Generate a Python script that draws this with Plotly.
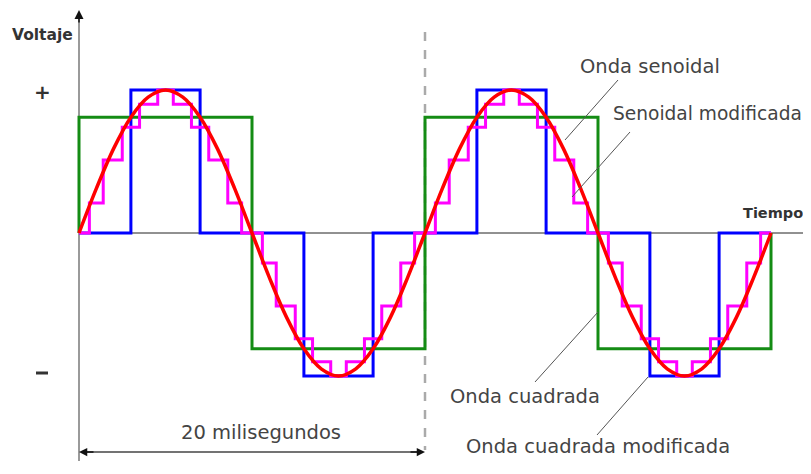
import plotly.graph_objects as go

# ---------------- data ----------------
# time in milliseconds, voltage relative to the sine peak
sine_t = list(range(0, 41))
sine_v = [0, 0.31, 0.59, 0.81, 0.95, 1.0, 0.95, 0.81, 0.59, 0.31,
          0, -0.31, -0.59, -0.81, -0.95, -1.0, -0.95, -0.81, -0.59, -0.31,
          0, 0.31, 0.59, 0.81, 0.95, 1.0, 0.95, 0.81, 0.59, 0.31,
          0, -0.31, -0.59, -0.81, -0.95, -1.0, -0.95, -0.81, -0.59, -0.31, 0]

step_t = [0, 0.6, 1.4, 2.5, 3.5, 4.55, 5.45, 6.5, 7.5, 8.6, 9.4,
          10.6, 11.4, 12.5, 13.5, 14.55, 15.45, 16.5, 17.5, 18.6, 19.4,
          20.6, 21.4, 22.5, 23.5, 24.55, 25.45, 26.5, 27.5, 28.6, 29.4,
          30.6, 31.4, 32.5, 33.5, 34.55, 35.45, 36.5, 37.5, 38.6, 39.4, 40]
step_v = [0, 0.21, 0.51, 0.74, 0.9, 1.0, 0.9, 0.74, 0.51, 0.21, 0,
          -0.21, -0.51, -0.74, -0.9, -1.0, -0.9, -0.74, -0.51, -0.21, 0,
          0.21, 0.51, 0.74, 0.9, 1.0, 0.9, 0.74, 0.51, 0.21, 0,
          -0.21, -0.51, -0.74, -0.9, -1.0, -0.9, -0.74, -0.51, -0.21, 0, 0]

square_t = [0, 0, 10, 20, 30, 40]
square_v = [0, 0.81, -0.81, 0.81, -0.81, 0]

modsq_t = [0, 3, 7, 13, 17, 23, 27, 33, 37, 40]
modsq_v = [0, 1, 0, -1, 0, 1, 0, -1, 0, 0]

labels = ["Onda senoidal", "Senoidal modificada", "Onda cuadrada", "Onda cuadrada modificada"]
period_label = "20 milisegundos"
axis_y_label = "Voltaje"
axis_x_label = "Tiempo"

# ---------------- layout helpers (page pixel -> data) ----------------
W, H = 811, 474
OFF = 8                   # default page margin around the plot div
X0, PXMS = 79, 17.3       # origin pixel, pixels per ms
Y0, PXV = 233, 143        # zero pixel, pixels per unit voltage
FIG_W, FIG_H = W - OFF, H - 2 * OFF
Y_BOTTOM = OFF + FIG_H


def X(px):
    return (px - X0) / PXMS


def Y(py):
    return (Y0 - py) / PXV


fig = go.Figure()
fig.add_trace(go.Scatter(x=square_t, y=square_v, mode="lines", line_shape="hv",
                         line=dict(color="#148c14", width=3), hoverinfo="skip"))
fig.add_trace(go.Scatter(x=modsq_t, y=modsq_v, mode="lines", line_shape="hv",
                         line=dict(color="#0000ff", width=3), hoverinfo="skip"))
fig.add_trace(go.Scatter(x=step_t, y=step_v, mode="lines", line_shape="hv",
                         line=dict(color="#ff00ff", width=3), hoverinfo="skip"))
fig.add_trace(go.Scatter(x=sine_t, y=sine_v, mode="lines", line_shape="spline",
                         line=dict(color="#ff0000", width=3.5), hoverinfo="skip"))

shapes = [
    # zero (time) line
    dict(type="line", x0=0, x1=X(W), y0=0, y1=0, line=dict(color="#222222", width=1), layer="below"),
    # voltage axis
    dict(type="line", x0=0, x1=0, y0=Y(461), y1=Y(16), line=dict(color="#9a9a9a", width=2), layer="below"),
    # dashed period marker
    dict(type="line", x0=20, x1=20, y0=Y(32), y1=Y(450), line=dict(color="#aaaaaa", width=2.5, dash="9px,9px"), layer="below"),
    # period dimension line
    dict(type="line", x0=0.3, x1=19.7, y0=Y(452), y1=Y(452), line=dict(color="#444444", width=1.5)),
    # leader lines
    dict(type="line", x0=X(618), y0=Y(80), x1=X(565), y1=Y(140), line=dict(color="#555555", width=1)),
    dict(type="line", x0=X(630), y0=Y(132), x1=X(572), y1=Y(197), line=dict(color="#555555", width=1)),
    dict(type="line", x0=X(535), y0=Y(382), x1=X(598), y1=Y(312), line=dict(color="#555555", width=1)),
    dict(type="line", x0=X(597), y0=Y(435), x1=X(648), y1=Y(377), line=dict(color="#555555", width=1)),
    # minus sign mark
    dict(type="line", x0=X(36), x1=X(48), y0=Y(373), y1=Y(373), line=dict(color="#333333", width=3)),
]

ann = []
font_lbl = dict(family="DejaVu Sans", size=19.5, color="#444444")
ann.append(dict(x=X(578), y=Y(66), text=labels[0], xanchor="left", yanchor="middle", showarrow=False, font=font_lbl))
ann.append(dict(x=X(611), y=Y(113), text=labels[1], xanchor="left", yanchor="middle", showarrow=False,
                font=dict(family="DejaVu Sans", size=18.6, color="#444444")))
ann.append(dict(x=X(448), y=Y(396), text=labels[2], xanchor="left", yanchor="middle", showarrow=False, font=font_lbl))
ann.append(dict(x=X(464), y=Y(446), text=labels[3], xanchor="left", yanchor="middle", showarrow=False, font=font_lbl))
ann.append(dict(x=X(261), y=Y(432), text=period_label, xanchor="center", yanchor="middle", showarrow=False,
                font=dict(family="DejaVu Sans", size=19.5, color="#444444")))
ann.append(dict(x=X(42), y=Y(35), text="<b>" + axis_y_label + "</b>", xanchor="center", yanchor="middle", showarrow=False,
                font=dict(family="DejaVu Sans", size=15.5, color="#333333")))
ann.append(dict(x=X(741), y=Y(213), text="<b>" + axis_x_label + "</b>", xanchor="left", yanchor="middle", showarrow=False,
                font=dict(family="DejaVu Sans", size=14.5, color="#333333")))
ann.append(dict(x=X(42), y=Y(92), text="<b>+</b>", xanchor="center", yanchor="middle", showarrow=False,
                font=dict(family="DejaVu Sans", size=20, color="#333333")))
# arrowheads
ann.append(dict(x=0, y=Y(10), ax=0, ay=14, axref="pixel", ayref="pixel", text="", showarrow=True,
                arrowhead=2, arrowsize=1.2, arrowwidth=1.5, arrowcolor="#111111"))
ann.append(dict(x=0, y=Y(452), ax=16, ay=0, axref="pixel", ayref="pixel", text="", showarrow=True,
                arrowhead=2, arrowsize=1.1, arrowwidth=1.5, arrowcolor="#111111"))
ann.append(dict(x=20, y=Y(452), ax=-16, ay=0, axref="pixel", ayref="pixel", text="", showarrow=True,
                arrowhead=2, arrowsize=1.1, arrowwidth=1.5, arrowcolor="#111111"))

fig.update_layout(
    width=FIG_W, height=FIG_H, autosize=False,
    margin=dict(l=0, r=0, t=0, b=0),
    paper_bgcolor="white", plot_bgcolor="white",
    showlegend=False,
    xaxis=dict(range=[X(OFF), X(OFF + FIG_W)], visible=False, fixedrange=True),
    yaxis=dict(range=[Y(Y_BOTTOM), Y(OFF)], visible=False, fixedrange=True),
    shapes=shapes, annotations=ann,
)

fig.write_html("out.html", config={"displayModeBar": False})
